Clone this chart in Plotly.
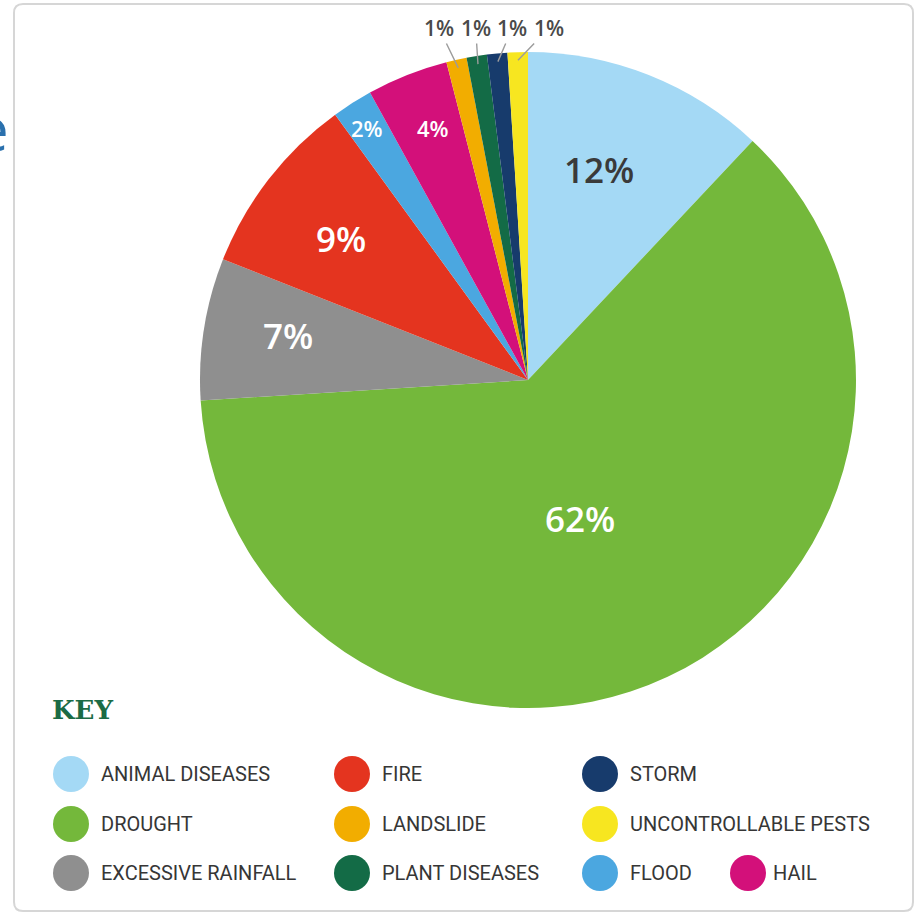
import math
import plotly.graph_objects as go

# Share of reported losses by cause (%)
categories = ["ANIMAL DISEASES", "DROUGHT", "EXCESSIVE RAINFALL", "FIRE", "FLOOD", "HAIL",
              "LANDSLIDE", "PLANT DISEASES", "STORM", "UNCONTROLLABLE PESTS"]
shares = [12, 62, 7, 9, 2, 4, 1, 1, 1, 1]
colors = ["#a4d9f5", "#74b83b", "#8f8f8f", "#e4341f", "#4ba7e0", "#d3107a",
          "#f2ad00", "#136b46", "#173b6c", "#f7e620"]

W, H = 917, 915
CX, CY, R = 528, 380, 328          # pie centre and radius in pixels


def px(x):
    return x / W


def py(y):
    return 1 - y / H


fig = go.Figure(go.Pie(
    labels=categories,
    values=shares,
    marker=dict(colors=colors, line=dict(width=0)),
    sort=False,
    direction="clockwise",
    rotation=0,
    textinfo="none",
    hoverinfo="label+percent",
    showlegend=False,
    domain=dict(x=[px(CX - R), px(CX + R)], y=[py(CY + R), py(CY - R)]),
))

total = sum(shares)
annotations = []
shapes = []

# inside label placement: (fraction of radius, angular nudge in degrees)
label_place = {"ANIMAL DISEASES": (0.676, -2.9), "DROUGHT": (0.45, 4.6),
               "EXCESSIVE RAINFALL": (0.745, 1.6), "FIRE": (0.716, -0.6),
               "FLOOD": (0.912, -0.2), "HAIL": (0.82, 1.0)}
dark_text = {"ANIMAL DISEASES"}

small_idx = [i for i, v in enumerate(shares) if v / total < 0.015]
cum = 0.0
for i, (cat, v) in enumerate(zip(categories, shares)):
    mid_deg = (cum + v / 2) / total * 360
    cum += v
    text = f"{v / total * 100:.0f}%"
    if i in small_idx:
        # outside label with leader line, laid out in a row above the pie
        mid = math.radians(mid_deg)
        j = small_idx.index(i)
        lx = 494 + 36.7 * (j - (len(small_idx) - 1) / 2)
        ly = 28
        hx = CX + 0.975 * R * math.sin(mid)
        hy = CY - 0.975 * R * math.cos(mid)
        annotations.append(dict(
            x=px(hx), y=py(hy), xref="paper", yref="paper",
            text=text, showarrow=True, arrowhead=0, arrowwidth=1.4,
            arrowcolor="#9c9c9c", ax=lx - hx, ay=ly - hy, standoff=0,
            font=dict(family="Open Sans", size=21, color="#4a4a4a", weight=600),
        ))
    else:
        frac, nudge = label_place[cat]
        a = math.radians(mid_deg + nudge)
        r = frac * R
        tx = CX + r * math.sin(a)
        ty = CY - r * math.cos(a)
        size = 35 if v >= 5 else 22
        annotations.append(dict(
            x=px(tx), y=py(ty), xref="paper", yref="paper",
            text=text, showarrow=False, xanchor="center", yanchor="middle",
            font=dict(family="Open Sans", size=size, weight=600,
                      color="#3a3a3a" if cat in dark_text else "#ffffff"),
        ))

# key: circle swatch centre (pixels)
key_pos = {
    "ANIMAL DISEASES": (71, 774), "DROUGHT": (71, 824), "EXCESSIVE RAINFALL": (71, 873),
    "FIRE": (352, 774), "LANDSLIDE": (352, 824), "PLANT DISEASES": (352, 873),
    "STORM": (600, 774), "UNCONTROLLABLE PESTS": (600, 824), "FLOOD": (600, 873),
    "HAIL": (748, 873),
}
rad = 18
for cat, col in zip(categories, colors):
    kx, ky = key_pos[cat]
    shapes.append(dict(type="circle", xref="paper", yref="paper",
                       x0=px(kx - rad), x1=px(kx + rad), y0=py(ky + rad), y1=py(ky - rad),
                       fillcolor=col, line=dict(width=0)))
    gap = 23 if cat == "HAIL" else 28
    annotations.append(dict(
        x=px(kx + gap), y=py(ky), xref="paper", yref="paper", text=cat,
        showarrow=False, xanchor="left", yanchor="middle",
        font=dict(family="Roboto", size=20, color="#363636"),
    ))

annotations.append(dict(
    x=px(50), y=py(710), xref="paper", yref="paper", text="<b>KEY</b>",
    showarrow=False, xanchor="left", yanchor="middle",
    font=dict(family="DejaVu Serif", size=26, color="#1b6b45"),
))

# fragment of a neighbouring heading at the left edge
annotations.append(dict(
    x=px(11), y=py(128), xref="paper", yref="paper", text="e",
    showarrow=False, xanchor="right", yanchor="middle",
    font=dict(family="Open Sans", size=60, color="#2a70ad"),
))

# rounded card outline
x0, x1, y0, y1, c = 14, 913, 4, 911, 9
path = (f"M {px(x0 + c)} {py(y0)} L {px(x1 - c)} {py(y0)} "
        f"Q {px(x1)} {py(y0)} {px(x1)} {py(y0 + c)} L {px(x1)} {py(y1 - c)} "
        f"Q {px(x1)} {py(y1)} {px(x1 - c)} {py(y1)} L {px(x0 + c)} {py(y1)} "
        f"Q {px(x0)} {py(y1)} {px(x0)} {py(y1 - c)} L {px(x0)} {py(y0 + c)} "
        f"Q {px(x0)} {py(y0)} {px(x0 + c)} {py(y0)} Z")
shapes.append(dict(type="path", xref="paper", yref="paper", path=path,
                   line=dict(color="#d6d6d6", width=2), fillcolor="rgba(0,0,0,0)"))

fig.update_layout(
    width=W, height=H,
    margin=dict(l=0, r=0, t=0, b=0),
    paper_bgcolor="#ffffff",
    plot_bgcolor="#ffffff",
    annotations=annotations,
    shapes=shapes,
)

fig.write_html("out.html")
